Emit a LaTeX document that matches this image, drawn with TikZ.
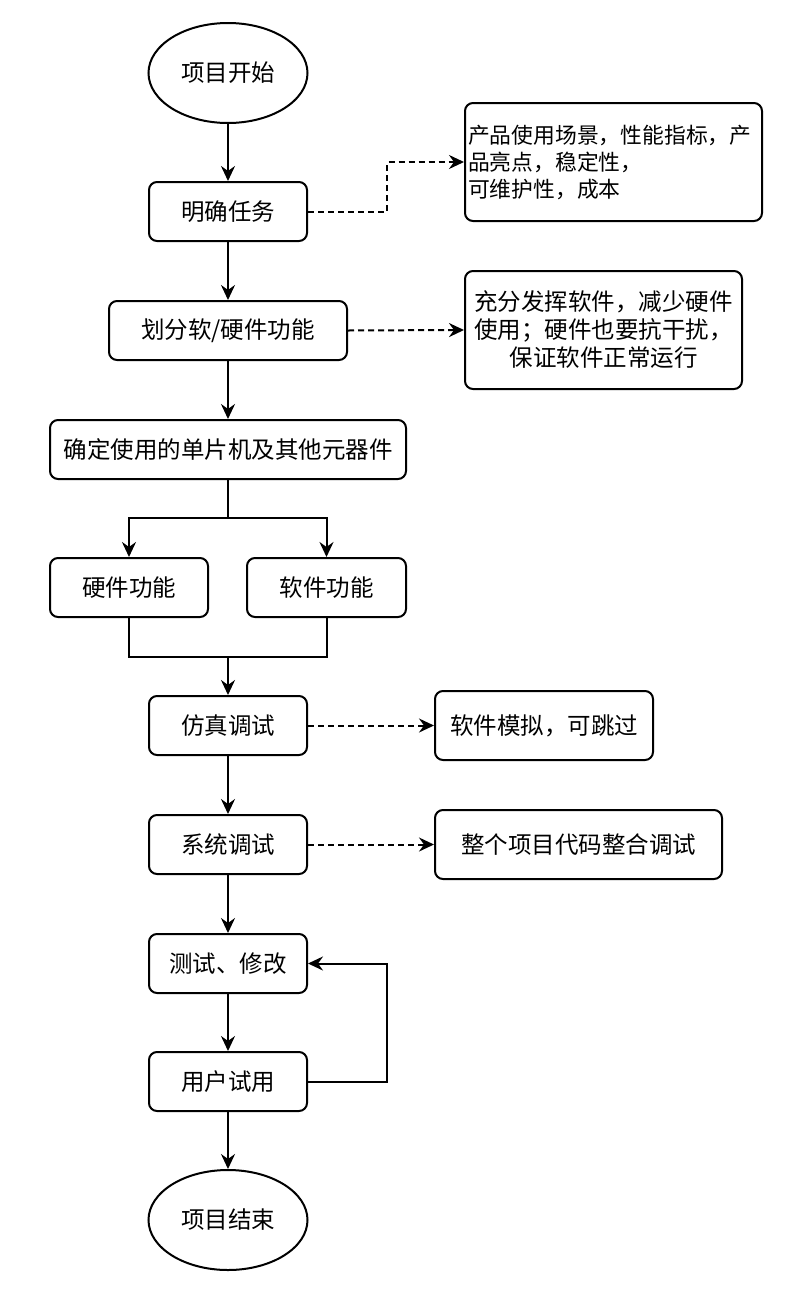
\documentclass[tikz,border=0pt]{standalone}
\usepackage{fontspec}
\setmainfont{Noto Sans CJK SC}
\usetikzlibrary{arrows.meta,shapes.geometric}
\begin{document}
\begin{tikzpicture}[x=1pt,y=-1pt,
 box/.style={draw,line width=2pt,rounded corners=8pt,minimum height=59pt,inner sep=0pt,font=\fontsize{23.5}{28}\selectfont},
 oval/.style={draw,ellipse,line width=2pt,minimum width=159pt,minimum height=100pt,inner sep=0pt,font=\fontsize{23.5}{28}\selectfont},
 arr/.style={line width=2pt,-{Stealth[length=15pt,width=14pt,inset=5pt]}},
 dasharr/.style={arr,dash pattern=on 6pt off 4pt},
 plain/.style={line width=2pt}]
\useasboundingbox (0,0) rectangle (803,1312);
\node[oval] (start) at (228,73) {项目开始};
\node[box,minimum width=158pt] (task) at (228,211.5) {明确任务};
\node[box,minimum width=297pt,minimum height=118pt,text width=291pt,align=left,inner xsep=3pt,font=\fontsize{21.8}{27}\selectfont] (n1) at (613.5,162) {产品使用场景，性能指标，产\\品亮点，稳定性，\\可维护性，成本};
\node[box,minimum width=238pt] (divide) at (228,330.5) {划分软/硬件功能};
\node[box,minimum width=277pt,minimum height=118pt,text width=271pt,inner xsep=3pt,align=center] (n2) at (603.5,330) {充分发挥软件，减少硬件\\使用；硬件也要抗干扰，\\保证软件正常运行};
\node[box,minimum width=356pt] (chip) at (228,449.5) {确定使用的单片机及其他元器件};
\node[box,minimum width=158pt] (hw) at (129,587.5) {硬件功能};
\node[box,minimum width=159pt] (sw) at (326.5,587.5) {软件功能};
\node[box,minimum width=158pt] (sim) at (228,725.5) {仿真调试};
\node[box,minimum width=218pt,minimum height=69pt] (n3) at (544,725.5) {软件模拟，可跳过};
\node[box,minimum width=158pt] (sys) at (228,844.5) {系统调试};
\node[box,minimum width=287pt,minimum height=69pt] (n4) at (578.5,844.5) {整个项目代码整合调试};
\node[box,minimum width=158pt] (test) at (228,963.5) {测试、修改};
\node[box,minimum width=158pt] (user) at (228,1081.5) {用户试用};
\node[oval] (end) at (228,1220) {项目结束};
\coordinate (sp) at (228,518);
\coordinate (mg) at (228,657);
\draw[arr] (start) -- (task);
\draw[arr] (task) -- (divide);
\draw[arr] (divide) -- (chip);
\draw[plain] (chip.south) -- (sp);
\draw[arr] (sp) -| (hw.north);
\draw[arr] (sp) -| (sw.north);
\draw[plain] (hw.south) |- (mg);
\draw[plain] (sw.south) |- (mg);
\draw[arr] (mg) -- (sim.north);
\draw[arr] (sim) -- (sys);
\draw[arr] (sys) -- (test);
\draw[arr] (test) -- (user);
\draw[arr] (user) -- (end);
\draw[arr] (user.east) -- ++(79,0) |- (test.east);
\draw[dasharr] (task.east) -- ++(79,0) |- (n1.west);
\draw[dasharr] (divide.east) -- (n2.west);
\draw[dasharr] (sim.east) -- (n3.west);
\draw[dasharr] (sys.east) -- (n4.west);
\end{tikzpicture}
\end{document}
